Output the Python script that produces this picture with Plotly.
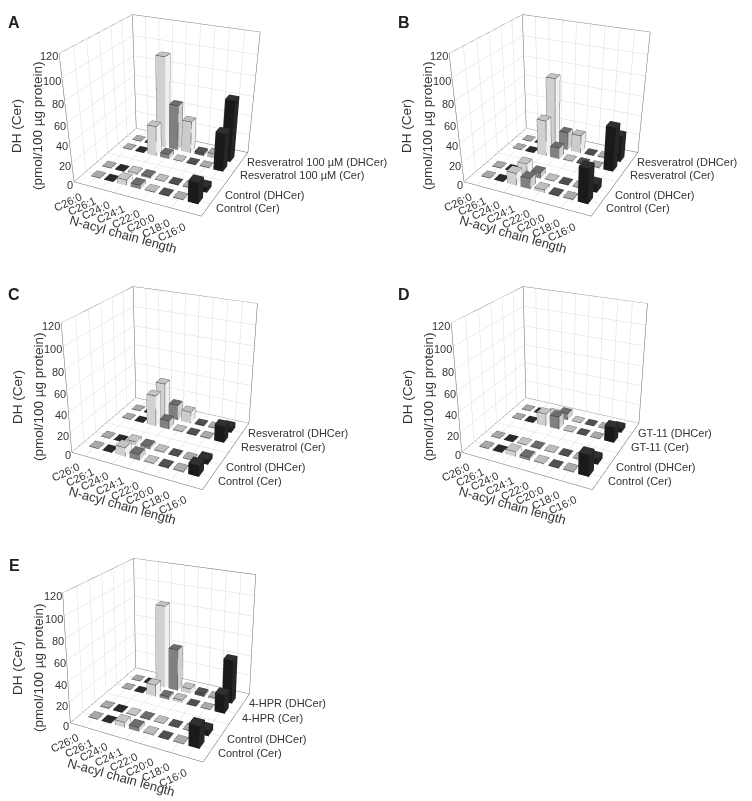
import plotly.graph_objects as go

W, H_PAGE = 752, 801
CHAINS = ["C26:0", "C26:1", "C24:0", "C24:1", "C22:0", "C20:0", "C18:0", "C16:0"]
ROW_POS = [1, 2, 4, 5]
Z_TICKS = [0, 20, 40, 60, 80, 100, 120]

A_CTRL_CER = [0.6, 0.6, 6, 4, 0.8, 0.8, 0.8, 22]
A_CTRL_DH = [0.6, 0.6, 2, 2, 0.6, 0.8, 0.8, 6]
A_TRT_CER = [0.5, 0.5, 32, 5, 0.8, 0.8, 0.8, 40]
A_TRT_DH = [0.5, 0.5, 94, 48, 34, 3, 5, 64]
B_CTRL_CER = [0.5, 0.5, 13, 11, 3, 1, 1, 36]
B_CTRL_DH = [0.5, 0.5, 12, 6, 1, 0.8, 0.8, 9]
B_TRT_CER = [0.5, 0.5, 38, 12, 1, 1, 1, 46]
B_TRT_DH = [0.5, 0.5, 73, 19, 19, 1, 1, 28]
C_CTRL_CER = [0.5, 0.5, 9, 6, 1, 1, 1, 11]
C_CTRL_DH = [0.5, 0.5, 4, 3, 1, 0.5, 0.5, 5]
C_TRT_CER = [0.5, 0.5, 32, 9, 1, 1, 1, 17]
C_TRT_DH = [0.5, 0.5, 36, 16, 12, 1, 1, 6]
D_CTRL_CER = [0.5, 0.5, 5, 3, 1, 0.5, 1, 21]
D_CTRL_DH = [0.5, 0.5, 1, 1, 0.5, 0.5, 0.5, 6]
D_TRT_CER = [0.5, 0.5, 13, 13, 0.5, 0.5, 0.5, 16]
D_TRT_DH = [0.5, 0.5, 3, 7, 0.5, 0.5, 0.5, 5]
E_CTRL_CER = [0.5, 0.5, 5, 4, 1, 0.5, 0.5, 21]
E_CTRL_DH = [1, 1, 1, 1, 0.5, 0.5, 0.5, 6]
E_TRT_CER = [0.5, 0.5, 12, 3, 3, 0.5, 0.5, 19]
E_TRT_DH = [0.5, 0.5, 85, 43, 5, 3, 2, 44]

LEFT = ["#a8a8a8", "#2a2a2a", "#d0d0d0", "#808080", "#cccccc", "#505050", "#b0b0b0", "#1a1a1a"]
RIGHT = ["#dddddd", "#555555", "#f0f0f0", "#cfcfcf", "#ececec", "#888888", "#dddddd", "#262626"]
TOP = ["#a8a8a8", "#2a2a2a", "#c4c4c4", "#6c6c6c", "#bdbdbd", "#505050", "#aaaaaa", "#303030"]

X_MAX, Y_MAX, Z_MAX = 9, 6, 120
BAR_X, BAR_Y = 0.68, 0.52
INK = "#333333"
FONT = "Liberation Sans"

# eye xyz, center xyz, aspect xyz of each scene
CAM_AB = (0.7628, -1.5946, 0.7956, -0.1576, 0.3331, -0.7735, 0.4928, 0.4750, 0.4630)
CAM_CD = (0.9232, -1.8945, 0.9822, -0.0926, 0.1970, -0.0611, 0.5923, 0.5606, 0.5736)
CAM_E = (1.0906, -2.2137, 1.1382, -0.0968, 0.2069, 0.3035, 0.6998, 0.6554, 0.6714)

PANELS = [
    dict(key="scene", letter="A", dx=0, dy=0, dom_x=(0, 330), dom_y=(0, 450), cam=CAM_AB,
         rows=[A_CTRL_CER, A_CTRL_DH, A_TRT_CER, A_TRT_DH],
         names=["Control (Cer)", "Control (DHCer)", "Resveratrol 100 µM (Cer)", "Resveratrol 100 µM (DHCer)"]),
    dict(key="scene2", letter="B", dx=390, dy=0, dom_x=(358, 752), dom_y=(0, 450), cam=CAM_AB,
         rows=[B_CTRL_CER, B_CTRL_DH, B_TRT_CER, B_TRT_DH],
         names=["Control (Cer)", "Control (DHCer)", "Resveratrol (Cer)", "Resveratrol (DHCer)"]),
    dict(key="scene3", letter="C", dx=0, dy=271, dom_x=(0, 330), dom_y=(140, 600), cam=CAM_CD,
         rows=[C_CTRL_CER, C_CTRL_DH, C_TRT_CER, C_TRT_DH],
         names=["Control (Cer)", "Control (DHCer)", "Resveratrol (Cer)", "Resveratrol (DHCer)"]),
    dict(key="scene4", letter="D", dx=390, dy=271, dom_x=(358, 752), dom_y=(140, 600), cam=CAM_CD,
         rows=[D_CTRL_CER, D_CTRL_DH, D_TRT_CER, D_TRT_DH],
         names=["Control (Cer)", "Control (DHCer)", "GT-11 (Cer)", "GT-11 (DHCer)"]),
    dict(key="scene5", letter="E", dx=0, dy=542, dom_x=(0, 330), dom_y=(350, 801), cam=CAM_E,
         rows=[E_CTRL_CER, E_CTRL_DH, E_TRT_CER, E_TRT_DH],
         names=["Control (Cer)", "Control (DHCer)", "4-HPR (Cer)", "4-HPR (DHCer)"]),
]


def bars_mesh(rows):
    xs, ys, zs, I, J, K, fc, ex, ey, ez = [], [], [], [], [], [], [], [], [], []
    for ypos, vals in zip(ROW_POS, rows):
        for c, v in enumerate(vals):
            x0, x1 = c + 1 - BAR_X / 2, c + 1 + BAR_X / 2
            y0, y1 = ypos - BAR_Y / 2, ypos + BAR_Y / 2
            b = len(xs)
            for zz in (0, v):
                xs += [x0, x1, x1, x0]; ys += [y0, y0, y1, y1]; zs += [zz] * 4
            quads = [((0, 1, 5, 4), LEFT[c]), ((1, 2, 6, 5), RIGHT[c]), ((4, 5, 6, 7), TOP[c]),
                     ((3, 2, 6, 7), LEFT[c]), ((0, 3, 7, 4), RIGHT[c])]
            for q, col in quads:
                I += [b + q[0], b + q[0]]; J += [b + q[1], b + q[2]]; K += [b + q[2], b + q[3]]
                fc += [col, col]
            ex += [x0, x1, x1, x0, x0, None, x0, x0, None, x1, x1, None, x1, x1, None]
            ey += [y0, y0, y1, y1, y0, None, y0, y0, None, y0, y0, None, y1, y1, None]
            ez += [v, v, v, v, v, None, 0, v, None, 0, v, None, 0, v, None]
    mesh = go.Mesh3d(x=xs, y=ys, z=zs, i=I, j=J, k=K, facecolor=fc, flatshading=True, hoverinfo="skip",
                     showscale=False, lighting=dict(ambient=1, diffuse=0, specular=0, roughness=1, fresnel=0))
    edges = go.Scatter3d(x=ex, y=ey, z=ez, mode="lines", line=dict(color="#2a2a2a", width=1), hoverinfo="skip",
                         showlegend=False)
    return mesh, edges


ROW_YSHIFT = [-4, -3, -4, 0]
fig = go.Figure()
for p in PANELS:
    th = p["cam"]
    dom_y = p["dom_y"]
    mesh, edges = bars_mesh(p["rows"])
    mesh.scene = p["key"]; edges.scene = p["key"]
    fx = [0, X_MAX, X_MAX, 0, 0, 0, 0, None, 0, 0, X_MAX, X_MAX]
    fy = [0, 0, Y_MAX, Y_MAX, 0, 0, Y_MAX, None, Y_MAX, Y_MAX, Y_MAX, Y_MAX]
    fz = [0, 0, 0, 0, 0, Z_MAX, Z_MAX, None, 0, Z_MAX, Z_MAX, 0]
    frame = go.Scatter3d(x=fx, y=fy, z=fz, mode="lines", line=dict(color="#666666", width=1), hoverinfo="skip",
                         showlegend=False, scene=p["key"])
    fig.add_traces([mesh, edges, frame])
    tf = dict(family=FONT, size=11, color=INK)
    ann = []
    for z in Z_TICKS:
        ann.append(dict(x=0, y=0, z=z, text=str(z), showarrow=False, xanchor="right", xshift=1, yshift=-3, font=tf))
    for c, name in enumerate(CHAINS):
        ann.append(dict(x=c + 1, y=0, z=0, text=name, showarrow=False, xanchor="right", yanchor="top",
                        textangle=-25, xshift=-1 + 5 * c / 7, yshift=-2 - 4 * c / 7, font=tf))
    for ypos, name, ys in zip(ROW_POS, p["names"], ROW_YSHIFT):
        ann.append(dict(x=X_MAX, y=ypos, z=0, text=name, showarrow=False, xanchor="left", xshift=4, yshift=ys, font=tf))
    ann.append(dict(x=X_MAX / 2, y=0, z=0, text="N-acyl chain length", showarrow=False, textangle=15.5,
                    xshift=-11, yshift=-36, font=dict(family=FONT, size=13, color=INK)))
    ax = dict(title="", showticklabels=False, showbackground=False, showline=False, zeroline=False,
              showspikes=False, gridcolor="#dcdcdc", gridwidth=1, ticks="")
    fig.update_layout({p["key"]: dict(
        domain=dict(x=[p["dom_x"][0] / W, p["dom_x"][1] / W], y=[1 - dom_y[1] / H_PAGE, 1 - dom_y[0] / H_PAGE]),
        xaxis=dict(ax, range=[0, X_MAX], tickvals=list(range(1, X_MAX))),
        yaxis=dict(ax, range=[0, Y_MAX], tickvals=list(range(1, Y_MAX))),
        zaxis=dict(ax, range=[0, Z_MAX], tickvals=Z_TICKS),
        aspectmode="manual", aspectratio=dict(x=th[6], y=th[7], z=th[8]),
        camera=dict(eye=dict(x=th[0], y=th[1], z=th[2]), center=dict(x=th[3], y=th[4], z=th[5]),
                    up=dict(x=0, y=0, z=1), projection=dict(type="perspective")),
        annotations=ann)})
    fig.add_annotation(x=(14 + p["dx"]) / W, y=1 - (23 + p["dy"]) / H_PAGE, xref="paper", yref="paper", text=f"<b>{p['letter']}</b>",
                       xanchor="center", yanchor="middle", showarrow=False, font=dict(family=FONT, size=16, color="#222222"))
    for xp, line in ((17, "DH (Cer)"), (38, "(pmol/100 µg protein)")):
        fig.add_annotation(x=(xp + p["dx"]) / W, y=1 - (126 + p["dy"]) / H_PAGE, xref="paper", yref="paper",
                           xanchor="center", yanchor="middle", text=line, textangle=-90, showarrow=False,
                           font=dict(family=FONT, size=13.5, color=INK))

fig.update_layout(width=W, height=H_PAGE, margin=dict(l=0, r=0, t=0, b=0), paper_bgcolor="white", showlegend=False)
fig.write_html("out.html", config=dict(displayModeBar=False),
               post_script="document.body.style.margin='0';document.documentElement.style.overflow='hidden';")
